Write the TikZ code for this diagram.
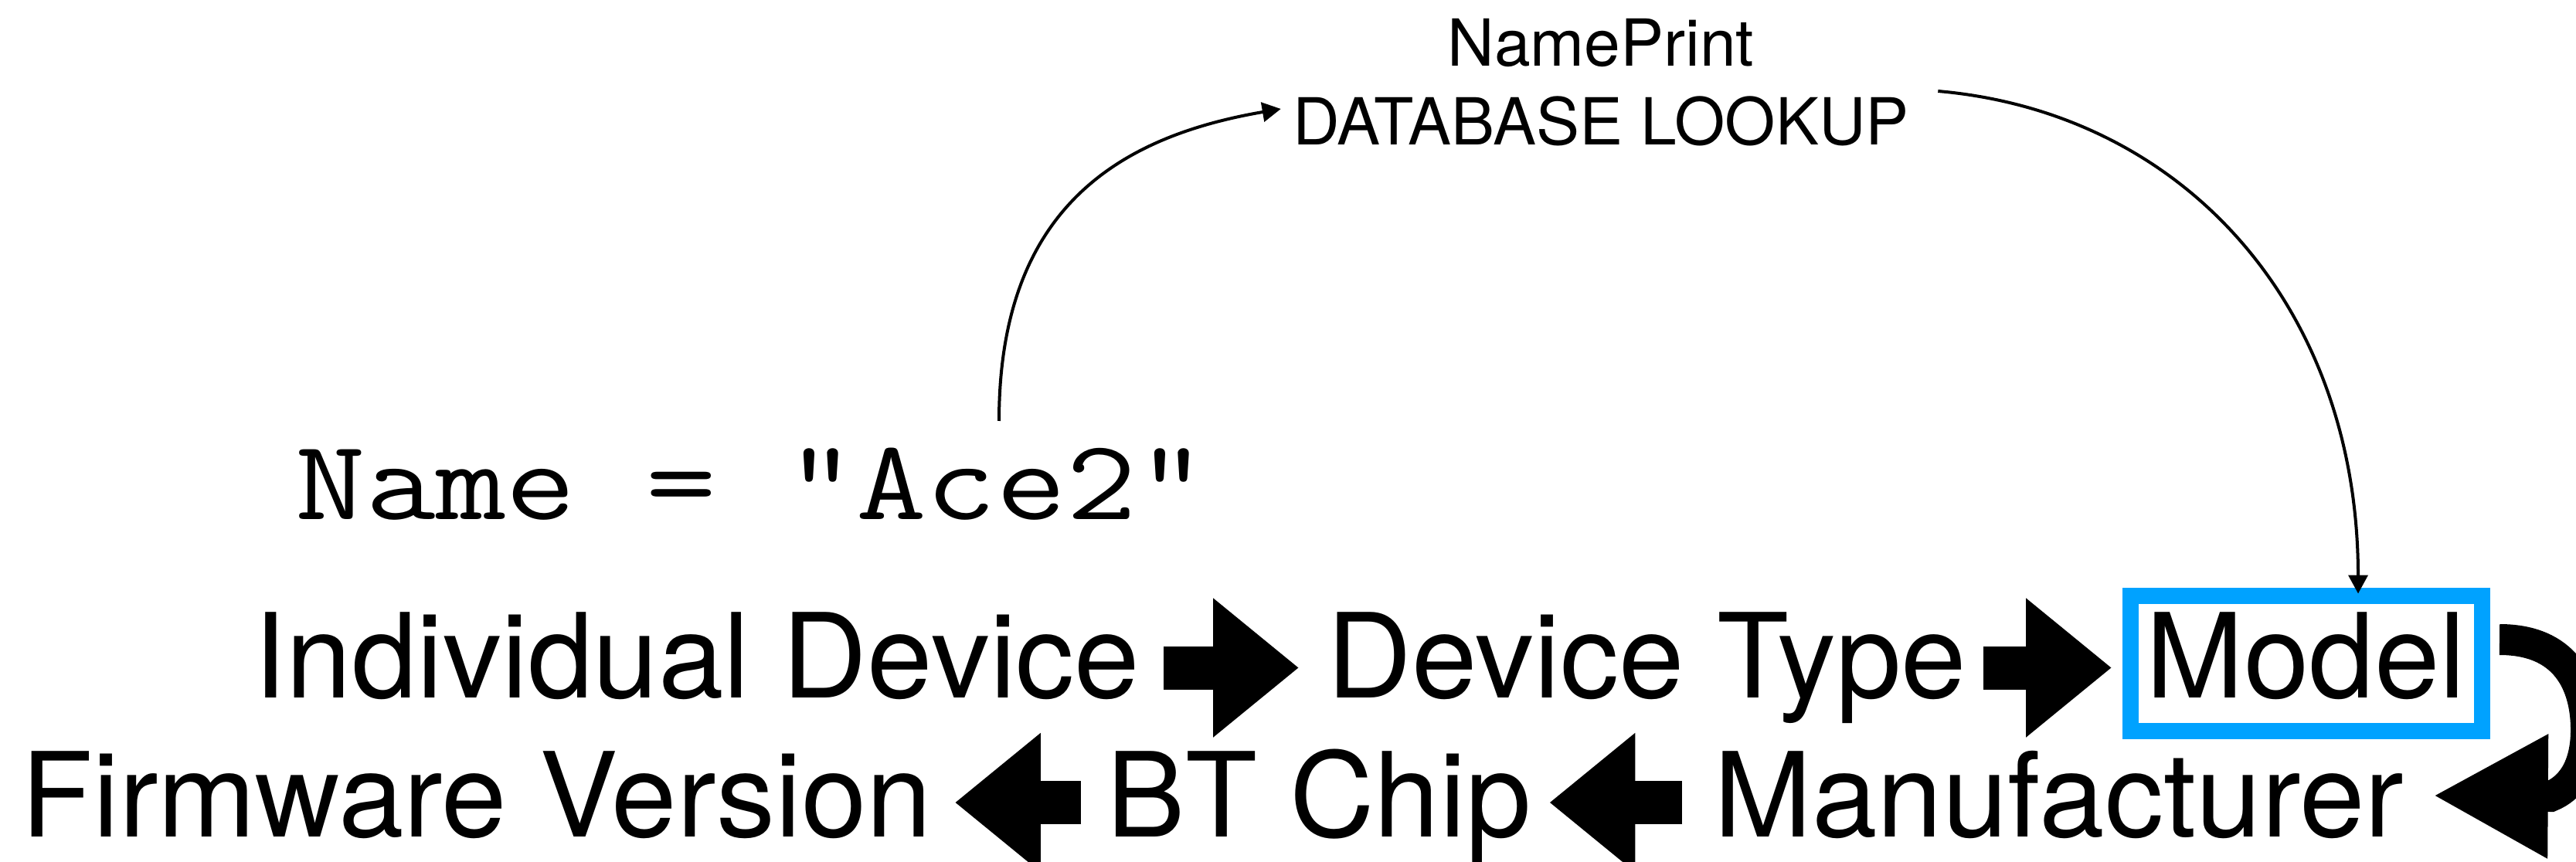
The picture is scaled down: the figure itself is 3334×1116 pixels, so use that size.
\documentclass[tikz,border=0pt]{standalone}
\usepackage{fontspec}
\setmainfont{TeX Gyre Heros}
\usetikzlibrary{arrows.meta}
\definecolor{skyb}{RGB}{0,162,255}
\begin{document}
\begin{tikzpicture}[x=0.3pt,y=-0.3pt,
 big/.style={font=\fontsize{45.6pt}{50pt}\selectfont, inner sep=0pt, anchor=base west},
 small/.style={font=\fontsize{25.2pt}{30pt}\selectfont, inner sep=0pt, anchor=base},
 code/.style={font=\ttfamily\fontsize{44.4pt}{48pt}\selectfont, inner sep=0pt, anchor=base west},
 modelbox/.style={draw=skyb, line width=6.3pt, inner sep=0pt, outer sep=0pt, minimum width=136.5pt, text height=32.7pt, text depth=6.15pt, inner ysep=6.75pt, anchor=base, font=\fontsize{45.6pt}{50pt}\selectfont},
 thinarr/.style={line width=1.2pt, -{Triangle[length=7.2pt,width=7.5pt]}},
 blockarr/.style={line width=16.8pt, -{Triangle[length=33.3pt,width=51.9pt]}},
 turnarr/.style={line width=12pt, -{Triangle[length=44.7pt,width=45pt]}}
]
\useasboundingbox (0,0) rectangle (3334,1116);
\clip (0,0) rectangle (3334,1116);

\node[small] (np) at (2072,86) {NamePrint};
\node[small] (db) at (2072,188) {DATABASE LOOKUP};
\node[code] (name) at (382,673) {\scalebox{1.19}[1]{Name = "Ace2"}};

\node[big] (id) at (328,903) {Individual Device};
\node[big] (dt) at (1717,903) {Device Type};
\node[modelbox] (model) at (2984.5,903) {Model};
\node[big] (fw) at (27,1083.5) {Firmware Version};
\node[big] (bt) at (1432,1083.5) {BT Chip};
\node[big] (mf) at (2218,1083.5) {Manufacturer};

\draw[blockarr] ([shift={(30,-38.5)}]id.base east) -- ([shift={(-36,-38.5)}]dt.base west);
\draw[blockarr] ([shift={(21,-38.5)}]dt.base east) -- ([shift={(-24,-38.5)}]model.base west);
\draw[blockarr] ([shift={(-41,-44.5)}]mf.base west) -- ([shift={(23,-44.5)}]bt.base east);
\draw[blockarr] ([shift={(-33,-44.5)}]bt.base west) -- ([shift={(29,-44.5)}]fw.base east);

\coordinate (ls) at (1293,545);
\draw[thinarr] (ls) .. controls +(0,-275) and +(-210,36) .. ([shift={(-15,-47)}]db.base west);
\draw[thinarr] ([shift={(37,-70)}]db.base east) .. controls +(319,28) and +(0,-370) .. ([shift={(67.5,-3)}]model.north);

\draw[turnarr] ([shift={(23,-30.75)}]model.east) .. controls +(85,0) and +(0,-60) .. ++(112,117) .. controls +(0,50) and +(25,-10) .. ++(-46,86) -- ([shift={(37,-53.5)}]mf.base east);
\end{tikzpicture}
\end{document}
